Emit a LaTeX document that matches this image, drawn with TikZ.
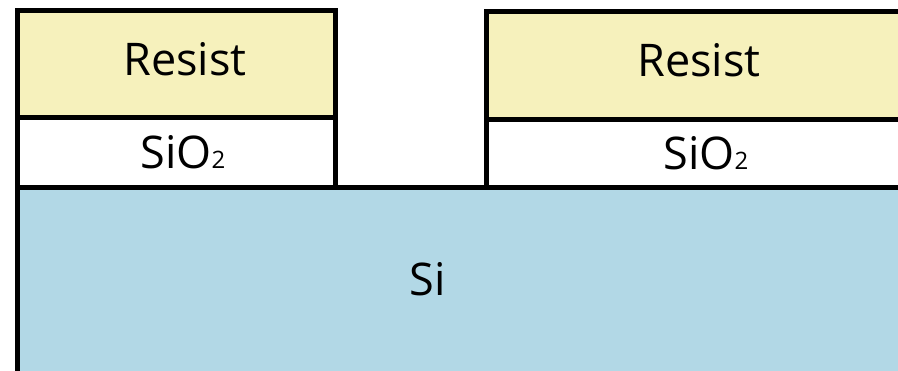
\documentclass[tikz,border=0pt]{standalone}
\usepackage{fontspec}
\setmainfont{Open Sans}
\definecolor{resistc}{HTML}{F6F1BC}
\definecolor{sic}{HTML}{B2D8E6}
\begin{document}
\begin{tikzpicture}[x=1pt,y=-1pt,
  layer/.style={draw=black,line width=5pt,line join=miter},
  lbl/.style={anchor=base,inner sep=0pt,font=\fontsize{45}{50}\selectfont}]
\useasboundingbox (0,0) rectangle (898,371);
\begin{scope}
\clip (0,0) rectangle (898,371);
% silicon substrate
\draw[layer,fill=sic] (17,188) rectangle (920,400);
% left stack
\draw[layer,fill=white] (17,118) rectangle (335,188);
\draw[layer,fill=resistc] (17,11) rectangle (335,118);
% right stack
\draw[layer,fill=white] (486,120) rectangle (920,188);
\draw[layer,fill=resistc] (486,12) rectangle (920,120);
\end{scope}
\node[lbl] (r1) at (185,76) {Resist};
\node[lbl] (o1) at (183,169) {SiO{\fontsize{24}{26}\selectfont 2}};
\node[lbl] (r2) at (699,77) {Resist};
\node[lbl] (o2) at (706,170) {SiO{\fontsize{24}{26}\selectfont 2}};
\node[lbl] (si) at (428,296) {Si};
\end{tikzpicture}
\end{document}
